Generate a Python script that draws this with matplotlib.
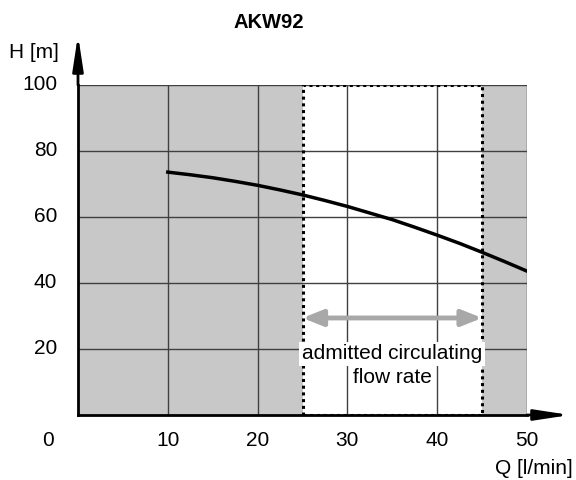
import matplotlib.pyplot as plt
from matplotlib.patches import Rectangle

# pump curve
flow = [10, 12.5, 15, 17.5, 20, 22.5, 25, 27.5, 30, 32.5, 35, 37.5, 40, 42.5, 45, 47.5, 50]
head = [73.6, 72.8, 71.9, 70.8, 69.6, 68.2, 66.7, 65.0, 63.2, 61.2, 59.2, 56.9, 54.5, 52.0, 49.3, 46.5, 43.6]

x_ticks = [10, 20, 30, 40, 50]
y_ticks = [20, 40, 60, 80, 100]
admitted = (25, 45)
arrow_h = 29.4

plt.rcParams['font.family'] = ['Liberation Sans', 'DejaVu Sans']

fig = plt.figure(figsize=(5.76, 4.8), dpi=100)
ax = fig.add_axes([78 / 576, 65 / 480, 449 / 576, 330 / 480])
ax.set_xlim(0, 50)
ax.set_ylim(0, 100)

# gray background, white admitted band
ax.add_patch(Rectangle((0, 0), 50, 100, facecolor='#c8c8c8', edgecolor='none', zorder=0))
ax.add_patch(Rectangle((admitted[0], 0), admitted[1] - admitted[0], 100,
                       facecolor='white', edgecolor='none', zorder=0.5))

# grid
for xv in x_ticks:
    ax.axvline(xv, color='#404040', lw=1, zorder=1)
for yv in y_ticks:
    ax.axhline(yv, color='#404040', lw=1, zorder=1)

# dotted border of admitted band
ax.add_patch(Rectangle((admitted[0], 0), admitted[1] - admitted[0], 100,
                       facecolor='none', edgecolor='black', lw=2.2,
                       linestyle=(0, (1, 1.2)), zorder=3))

# pump curve
ax.plot(flow, head, color='black', lw=2.5, zorder=4)

# double arrow
ax.annotate('', xy=(admitted[0], arrow_h), xytext=(admitted[1], arrow_h),
            arrowprops=dict(arrowstyle='<|-|>,head_length=1.0,head_width=0.4',
                            color='#a8a8a8', lw=3.5,
                            mutation_scale=12, shrinkA=0, shrinkB=0), zorder=5)
ax.text(35, 18.5, 'admitted circulating', ha='center', va='center',
        fontsize=15, zorder=6,
        bbox=dict(facecolor='white', edgecolor='none', pad=2))
ax.text(35, 11.3, 'flow rate', ha='center', va='center', fontsize=15, zorder=6)

for s in ['top', 'right']:
    ax.spines[s].set_visible(False)
ax.spines['left'].set_linewidth(2)
ax.spines['bottom'].set_linewidth(2)
ax.spines['left'].set_zorder(7)
ax.spines['bottom'].set_zorder(7)

ax.set_xticks([])
ax.set_yticks([])

# axis arrows
ax.annotate('', xy=(78 / 576, 445 / 480), xytext=(78 / 576, 395 / 480),
            xycoords='figure fraction',
            arrowprops=dict(arrowstyle='-|>,head_length=1.05,head_width=0.16',
                            color='black', lw=2,
                            mutation_scale=20, shrinkA=0, shrinkB=0))
ax.annotate('', xy=(570 / 576, 65 / 480), xytext=(527 / 576, 65 / 480),
            xycoords='figure fraction',
            arrowprops=dict(arrowstyle='-|>,head_length=1.05,head_width=0.16',
                            color='black', lw=2,
                            mutation_scale=20, shrinkA=0, shrinkB=0))

# tick labels
for xv in x_ticks:
    ax.text(xv, -7.6, str(xv), ha='center', va='center', fontsize=15)
ax.text(-3.3, -7.6, '0', ha='center', va='center', fontsize=15)
for yv in y_ticks:
    ax.text(-2.3, yv, str(yv), ha='right', va='center', fontsize=15)

fig.text(573 / 576, 12 / 480, 'Q [l/min]', ha='right', va='center', fontsize=15)
fig.text(9 / 576, 428 / 480, 'H [m]', ha='left', va='center', fontsize=15)
fig.text(269 / 576, 458 / 480, 'AKW92', ha='center', va='center', fontsize=14.5, fontweight='bold')

fig.savefig('out.png', dpi=100)
